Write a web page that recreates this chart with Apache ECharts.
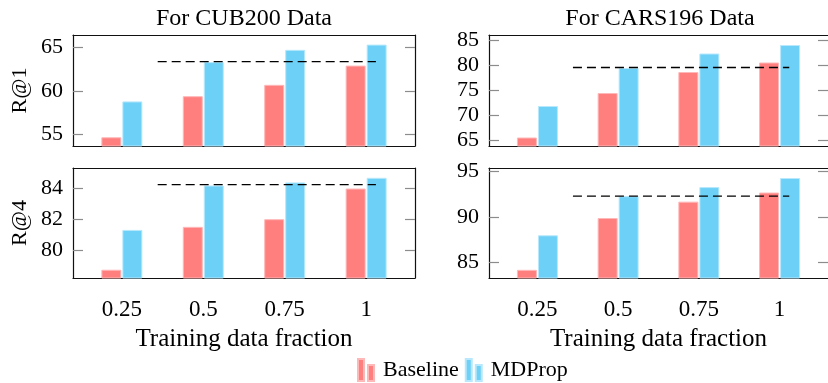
<!DOCTYPE html>
<html>
<head>
<meta charset="utf-8">
<script src="https://cdn.jsdelivr.net/npm/echarts@6/dist/echarts.min.js"></script>
<style>
html,body{margin:0;padding:0;background:#fff;}
#chart{width:828px;height:383px;}
</style>
</head>
<body>
<div id="chart"></div>
<script>
// ---- data ----
var categories = ['0.25', '0.5', '0.75', '1'];
var fractions = [0.25, 0.5, 0.75, 1];
var seriesNames = ['Baseline', 'MDProp'];
var panelTitles = ['For CUB200 Data', 'For CARS196 Data'];
var rowLabels = ['R@1', 'R@4'];
var xTitle = 'Training data fraction';

var cubR1Baseline = [54.7, 59.4, 60.7, 62.9];
var cubR1MDProp = [58.8, 63.3, 64.7, 65.3];
var carsR1Baseline = [65.5, 74.4, 78.6, 80.5];
var carsR1MDProp = [71.8, 79.4, 82.3, 84.0];
var cubR4Baseline = [78.7, 81.5, 82.0, 84.0];
var cubR4MDProp = [81.3, 84.2, 84.4, 84.7];
var carsR4Baseline = [84.2, 89.9, 91.7, 92.7];
var carsR4MDProp = [88.0, 92.3, 93.3, 94.3];

// dashed reference lines (full-data baseline level)
var refSpan = [0.36, 1.03];
var cubR1Ref = 63.35;
var carsR1Ref = 79.5;
var cubR4Ref = 84.25;
var carsR4Ref = 92.3;

// y tick labels
var cubR1Ticks = [55, 60, 65];
var carsR1Ticks = [65, 70, 75, 80, 85];
var cubR4Ticks = [80, 82, 84];
var carsR4Ticks = [85, 90, 95];

// ---- layout / styles ----
var FONT = '"Liberation Serif", "DejaVu Serif", serif';
var FS = 22;
var colors = ['#FF7F7F', '#6DD0F7'];
var borders = ['#ffb8b8', '#b8e8fb'];
var xMin = 0.1, xMax = 1.15;
var FRAME = {color: '#111', width: 1.2};

var panels = [
  {grid: {left: 73, top: 35, width: 342, height: 111}, yMin: 53.7, yMax: 66.4, ticks: cubR1Ticks, b: cubR1Baseline, m: cubR1MDProp, ref: cubR1Ref, title: panelTitles[0], yName: rowLabels[0], bottom: false, rightBorder: true},
  {grid: {left: 489, top: 35, width: 343, height: 111}, yMin: 63.8, yMax: 86.0, ticks: carsR1Ticks, b: carsR1Baseline, m: carsR1MDProp, ref: carsR1Ref, title: panelTitles[1], yName: '', bottom: false, rightBorder: false},
  {grid: {left: 73, top: 168, width: 342, height: 110}, yMin: 78.16, yMax: 85.34, ticks: cubR4Ticks, b: cubR4Baseline, m: cubR4MDProp, ref: cubR4Ref, title: '', yName: rowLabels[1], bottom: true, rightBorder: true},
  {grid: {left: 489, top: 168, width: 343, height: 110}, yMin: 83.3, yMax: 95.4, ticks: carsR4Ticks, b: carsR4Baseline, m: carsR4MDProp, ref: carsR4Ref, title: '', yName: '', bottom: true, rightBorder: false}
];

var grids = [], xAxes = [], yAxes = [], series = [], titles = [];

panels.forEach(function (p, i) {
  grids.push(Object.assign({show: false, containLabel: false}, p.grid));
  // bottom x axis
  xAxes.push({
    type: 'value', gridIndex: i, position: 'bottom', min: xMin, max: xMax,
    axisLine: {show: true, onZero: false, lineStyle: FRAME}, axisTick: {show: false}, splitLine: {show: false},
    axisLabel: {
      show: p.bottom, customValues: fractions, margin: 20,
      color: '#000', fontFamily: FONT, fontSize: 23,
      formatter: function (v) { var k = fractions.indexOf(v); return k >= 0 ? categories[k] : ''; }
    },
    name: p.bottom ? xTitle : '', nameLocation: 'middle', nameGap: 49,
    nameTextStyle: {color: '#000', fontFamily: FONT, fontSize: 25}
  });
  // top frame line
  xAxes.push({
    type: 'value', gridIndex: i, position: 'top', min: xMin, max: xMax,
    axisLine: {show: true, onZero: false, lineStyle: FRAME}, axisTick: {show: false},
    splitLine: {show: false}, axisLabel: {show: false}
  });
  // left y axis
  yAxes.push({
    type: 'value', gridIndex: i, position: 'left', min: p.yMin, max: p.yMax,
    axisLine: {show: true, onZero: false, lineStyle: FRAME}, splitLine: {show: false},
    axisTick: {show: true, inside: true, length: 10, customValues: p.ticks, lineStyle: {color: '#8c8c8c', width: 1.2}},
    axisLabel: {customValues: p.ticks, margin: 10, color: '#000', fontFamily: FONT, fontSize: FS},
    name: p.yName, nameLocation: 'middle', nameGap: 42, nameRotate: 90,
    nameTextStyle: {color: '#000', fontFamily: FONT, fontSize: FS}
  });
  // right y axis (ticks + frame)
  yAxes.push({
    type: 'value', gridIndex: i, position: 'right', min: p.yMin, max: p.yMax,
    axisLine: {show: p.rightBorder, onZero: false, lineStyle: FRAME}, splitLine: {show: false},
    axisTick: {show: true, inside: true, length: 10, customValues: p.ticks, lineStyle: {color: '#8c8c8c', width: 1.2}},
    axisLabel: {show: false}
  });
  var xIdx = i * 2, yIdx = i * 2;
  [p.b, p.m].forEach(function (vals, s) {
    series.push({
      type: 'bar', name: seriesNames[s], xAxisIndex: xIdx, yAxisIndex: yIdx,
      barWidth: 20, barGap: '5%',
      itemStyle: {color: colors[s], borderColor: borders[s], borderWidth: 1},
      data: fractions.map(function (f, k) { return [f, vals[k]]; }),
      clip: true, animation: false
    });
  });
  series.push({
    type: 'line', name: 'ref' + i, xAxisIndex: xIdx, yAxisIndex: yIdx,
    symbol: 'none', silent: true, z: 5,
    lineStyle: {color: '#000', width: 1.3, type: [9, 5]},
    data: [[refSpan[0], p.ref], [refSpan[1], p.ref]],
    animation: false
  });
  if (p.title) {
    titles.push({
      text: p.title, left: p.grid.left + 171 - 5, top: 2, textAlign: 'center',
      textStyle: {color: '#000', fontFamily: FONT, fontSize: 24, fontWeight: 'normal'}
    });
  }
});

var iconPath = 'path://M0,0H6V22H0Z M10,6H16V22H10Z';
var option = {
  animation: false,
  title: titles,
  grid: grids,
  xAxis: xAxes,
  yAxis: yAxes,
  series: series,
  legend: {
    data: [{name: seriesNames[0], icon: iconPath}, {name: seriesNames[1], icon: iconPath}],
    left: 352, top: 353, itemWidth: 16, itemHeight: 22, itemGap: 6,
    textStyle: {color: '#000', fontFamily: FONT, fontSize: FS, padding: [4, 0, 0, 4]}
  }
};

var chart = echarts.init(document.getElementById('chart'), null, {renderer: 'canvas'});
chart.setOption(option);
</script>
</body>
</html>
